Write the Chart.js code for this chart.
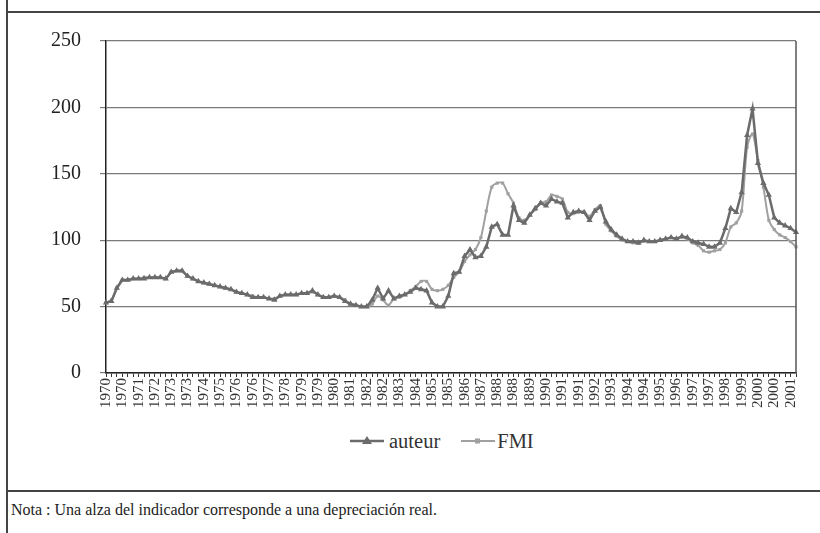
<!DOCTYPE html>
<html>
<head>
<meta charset="utf-8">
<script src="https://cdn.jsdelivr.net/npm/chart.js@4.4.1/dist/chart.umd.min.js"></script>
<style>
  html, body { margin: 0; padding: 0; background: #fff; }
  body { width: 820px; height: 533px; position: relative; overflow: hidden; font-family: "Liberation Serif", "DejaVu Serif", serif; }
  #frameL { position: absolute; left: 6px; top: 0; width: 2px; height: 533px; background: #444; }
  #frameT { position: absolute; left: 6px; top: 11px; width: 814px; height: 2px; background: #444; }
  #frameM { position: absolute; left: 6px; top: 490px; width: 814px; height: 2px; background: #444; }
  #wrap { position: absolute; left: 0; top: 0; width: 820px; height: 420px; }
  #legend { position: absolute; top: 427px; left: 349px; height: 28px; display: flex; align-items: center; font-size: 20.5px; color: #333; }
  .item { display: flex; align-items: center; }
  #note { position: absolute; left: 11px; top: 501px; font-size: 16px; color: #222; }
</style>
</head>
<body>
<div id="frameL"></div>
<div id="frameT"></div>
<div id="frameM"></div>
<div id="wrap"><canvas id="c" width="820" height="420"></canvas></div>
<div id="legend">
  <div class="item">
    <svg width="36" height="14"><line x1="1" y1="7" x2="35" y2="7" stroke="#6b6b6b" stroke-width="2.5"/><polygon points="18,2 23,10 13,10" fill="#6b6b6b"/></svg>
    <span style="margin-left:4px">auteur</span>
  </div>
  <div class="item" style="margin-left:20px">
    <svg width="36" height="14"><line x1="1" y1="7" x2="35" y2="7" stroke="#a0a0a0" stroke-width="2"/><rect x="15" y="4.5" width="5" height="5" fill="#a0a0a0"/></svg>
    <span style="margin-left:1px">FMI</span>
  </div>
</div>
<div id="note">Nota : Una alza del indicador corresponde a una depreciación real.</div>
<script>
// Years covered (quarterly data, 4 per year)
const years = [1970,1971,1972,1973,1974,1975,1976,1977,1978,1979,1980,1981,1982,1983,1984,1985,
               1986,1987,1988,1989,1990,1991,1992,1993,1994,1995,1996,1997,1998,1999,2000,2001];
const categories = [];
years.forEach(y => { for (let q = 1; q <= 4; q++) categories.push(y + 'T' + q); });

// Tick labels shown every third quarter (as printed, including the original "1889")
const tickLabels = ['1970','1970','1971','1972','1973','1973','1974','1975','1976','1976','1977',
  '1978','1979','1979','1980','1981','1982','1982','1983','1984','1985','1985','1986','1987',
  '1988','1988','1889','1990','1991','1991','1992','1993','1994','1994','1995','1996','1997',
  '1997','1998','1999','2000','2000','2001'];

const auteur = [
  53, 54, 64, 70,   70, 71, 71, 71,   72, 72, 72, 71,   76, 77, 77, 73,
  71, 69, 68, 67,   66, 65, 64, 63,   61, 60, 59, 57,   57, 57, 56, 55,
  58, 59, 59, 59,   60, 60, 62, 59,   57, 57, 58, 57,   54, 52, 51, 50,
  50, 55, 64, 56,   62, 56, 58, 59,   61, 64, 63, 62,   53, 50, 50, 58,
  75, 76, 88, 93,   87, 88, 95, 110,  112, 104, 104, 126, 115, 113, 119, 124,
  128, 126, 131, 129, 128, 117, 121, 122, 121, 115, 122, 125, 114, 108, 104, 101,
  99, 99, 98, 100,  99, 99, 100, 101, 102, 101, 103, 102, 99, 98, 97, 95,
  95, 98, 109, 124, 121, 136, 179, 199, 158, 143, 134, 117, 113, 111, 109, 106
];

const fmi = [
  53, 55, 64, 70,   70, 71, 71, 72,   72, 72, 72, 71,   76, 77, 77, 73,
  71, 69, 68, 67,   66, 65, 64, 63,   61, 60, 59, 58,   57, 57, 56, 56,
  58, 59, 59, 59,   60, 60, 61, 59,   57, 57, 58, 57,   55, 52, 51, 50,
  50, 52, 58, 55,   51, 56, 57, 59,   62, 65, 69, 69,   63, 62, 63, 66,
  72, 76, 84, 89,   93, 102, 122, 140, 143, 143, 135, 128, 117, 115, 119, 123,
  128, 129, 134, 133, 131, 121, 120, 121, 121, 118, 123, 126, 112, 107, 103, 100,
  99, 98, 98, 99,   99, 99, 100, 101, 102, 101, 102, 101, 98, 96, 92, 91,
  92, 93, 98, 110,  113, 122, 170, 180, 160, 140, 115, 108, 104, 102, 99, 95
];

const yTicks = [0, 50, 100, 150, 200, 250];

const plotBorder = {
  id: 'plotBorder',
  afterDraw(chart) {
    const a = chart.chartArea, ctx = chart.ctx;
    ctx.save();
    ctx.strokeStyle = '#555';
    ctx.lineWidth = 1.5;
    ctx.beginPath();
    ctx.moveTo(a.right, a.top);
    ctx.lineTo(a.right, a.bottom);
    ctx.stroke();
    ctx.restore();
  }
};

new Chart(document.getElementById('c'), {
  type: 'line',
  data: {
    labels: categories,
    datasets: [
      {
        label: 'auteur',
        data: auteur,
        borderColor: '#6b6b6b',
        backgroundColor: '#6b6b6b',
        borderWidth: 2.5,
        pointStyle: 'triangle',
        pointRadius: 3.6,
        pointBorderWidth: 0,
        tension: 0
      },
      {
        label: 'FMI',
        data: fmi,
        borderColor: '#a0a0a0',
        backgroundColor: '#a0a0a0',
        borderWidth: 2,
        pointStyle: 'rect',
        pointRadius: 2.2,
        pointBorderWidth: 0,
        tension: 0.3
      }
    ]
  },
  options: {
    responsive: false,
    animation: false,
    devicePixelRatio: 1,
    layout: { padding: { left: 0, right: 24, top: 41, bottom: 0 } },
    plugins: { legend: { display: false }, tooltip: { enabled: false } },
    scales: {
      x: {
        type: 'category',
        offset: false,
        afterFit(s) { s.height = 47; },
        grid: { display: true, drawOnChartArea: false, drawTicks: true, tickLength: 4, color: '#333', offset: false },
        border: { display: true, color: '#222', width: 1.5 },
        ticks: {
          autoSkip: false,
          minRotation: 90,
          maxRotation: 90,
          padding: 1,
          color: '#333',
          font: { family: '"Liberation Serif", serif', size: 15 },
          callback(v, i) { return i % 3 === 0 ? tickLabels[i / 3] : ''; }
        }
      },
      y: {
        min: 0,
        max: 250,
        afterFit(s) { s.width = 106; },
        afterBuildTicks(s) { s.ticks = yTicks.map(v => ({ value: v })); },
        grid: { color: '#7a7a7a', lineWidth: 1.2, tickLength: 6, drawTicks: true },
        border: { display: true, color: '#222', width: 1.5 },
        ticks: {
          padding: 19,
          color: '#222',
          font: { family: '"Liberation Serif", serif', size: 20 }
        }
      }
    }
  },
  plugins: [plotBorder]
});
</script>
</body>
</html>
